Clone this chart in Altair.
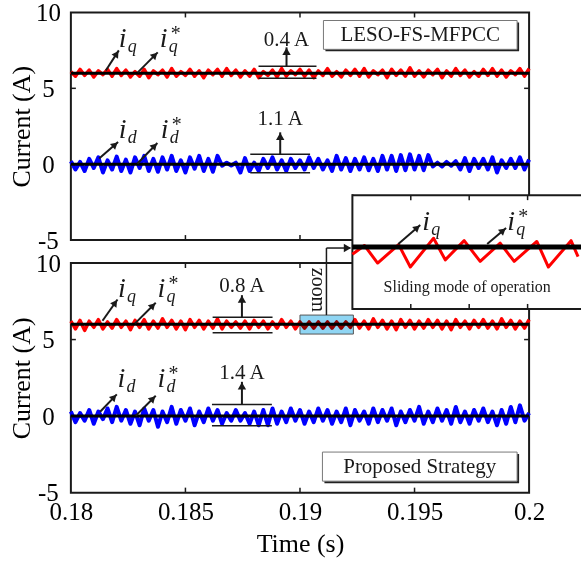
import altair as alt
import numpy as np
import pandas as pd

FONT = "Liberation Serif"
INK = "#1a1a1a"
RED = "#ff0000"
BLUE = "#0000ff"

W, H1, H2, GAP = 459, 228, 230, 23
T_MIN, T_MAX = 0.18, 0.2
V_MIN, V_MAX = -5, 10
PXT = W / (T_MAX - T_MIN)
PXV1 = H1 / (V_MAX - V_MIN)
PXV2 = H2 / (V_MAX - V_MIN)

x_tick_values = [0.18, 0.185, 0.19, 0.195, 0.2]
y_tick_values = [-5, 0, 5, 10]
x_inner_ticks = [0.185, 0.19, 0.195]
y_inner_ticks = [0, 5]

iq_ref = 6.0
id_ref = 0.0

# ripple around the references (A), one sample every 0.2 ms
iq_top_ripple = [
    0.10, -0.20, 0.25, -0.15, 0.20, -0.25, 0.15, -0.10, 0.25, -0.20,
    0.30, -0.15, 0.20, -0.25, 0.10, -0.20, 0.25, -0.30, 0.15, -0.10,
    0.20, -0.25, 0.30, -0.20, 0.10, -0.15, 0.25, -0.20, 0.15, -0.30,
    0.20, -0.10, 0.25, -0.20, 0.30, -0.15, 0.20, -0.25, 0.15, -0.20,
    0.25, -0.30, 0.10, -0.15, 0.20, -0.25, 0.30, -0.20, 0.15, -0.10,
    0.25, -0.20, 0.20, -0.30, 0.15, -0.15, 0.30, -0.20, 0.10, -0.25,
    0.20, -0.15, 0.25, -0.20, 0.30, -0.25, 0.15, -0.10, 0.20, -0.30,
    0.25, -0.15, 0.20, -0.20, 0.35, -0.20, 0.15, -0.25, 0.20, -0.10,
    0.25, -0.30, 0.15, -0.20, 0.30, -0.15, 0.20, -0.25, 0.10, -0.20,
    0.25, -0.15, 0.30, -0.20, 0.20, -0.25, 0.15, -0.10, 0.30, -0.20,
    0.30,
]
id_top_ripple = [
    0.20, -0.35, 0.15, -0.45, 0.35, -0.25, 0.45, -0.55, 0.25, -0.35,
    0.50, -0.45, 0.30, -0.55, 0.45, -0.25, 0.55, -0.45, 0.35, -0.50,
    0.45, -0.35, 0.55, -0.45, 0.25, -0.55, 0.45, -0.30, 0.55, -0.45,
    0.35, -0.50, 0.55, -0.10, 0.10, -0.08, 0.10, -0.55, 0.40, -0.45,
    0.10, -0.45, 0.35, -0.25, 0.45, -0.35, 0.25, -0.45, 0.35, -0.25,
    0.25, -0.35, 0.45, -0.25, 0.35, -0.35, 0.25, -0.45, 0.55, -0.35,
    0.40, -0.45, 0.35, -0.35, 0.45, -0.40, 0.35, -0.45, 0.55, -0.35,
    0.55, -0.45, 0.60, -0.40, 0.65, -0.35, 0.55, -0.40, 0.60, -0.15,
    0.10, -0.15, 0.15, -0.10, 0.20, -0.35, 0.40, -0.45, 0.35, -0.25,
    0.35, -0.35, 0.45, -0.55, 0.25, -0.25, 0.35, -0.25, 0.45, -0.35,
    0.30,
]
iq_bot_ripple = [
    0.20, -0.30, 0.25, -0.40, 0.20, -0.20, 0.30, -0.30, 0.15, -0.25,
    0.30, -0.20, 0.20, -0.35, 0.25, -0.20, 0.30, -0.30, 0.20, -0.25,
    0.35, -0.20, 0.25, -0.30, 0.20, -0.35, 0.30, -0.20, 0.25, -0.30,
    0.20, -0.25, 0.35, -0.30, 0.20, -0.20, 0.15, -0.25, 0.20, -0.30,
    0.25, -0.20, 0.20, -0.30, 0.15, -0.25, 0.30, -0.20, 0.20, -0.30,
    0.15, -0.25, 0.15, -0.25, 0.15, -0.25, 0.15, -0.25, 0.15, -0.25,
    0.15, -0.20, 0.30, -0.25, 0.20, -0.30, 0.35, -0.20, 0.25, -0.30,
    0.20, -0.35, 0.30, -0.20, 0.25, -0.30, 0.20, -0.25, 0.30, -0.20,
    0.25, -0.30, 0.20, -0.35, 0.30, -0.20, 0.20, -0.30, 0.25, -0.20,
    0.30, -0.25, 0.20, -0.30, 0.35, -0.20, 0.25, -0.30, 0.20, -0.25,
    0.30,
]
id_bot_ripple = [
    0.30, -0.40, 0.20, -0.30, 0.40, -0.50, 0.30, -0.20, 0.50, -0.40,
    0.60, -0.30, 0.40, -0.50, 0.30, -0.60, 0.50, -0.30, 0.40, -0.70,
    0.30, -0.40, 0.60, -0.50, 0.40, -0.30, 0.50, -0.60, 0.30, -0.40,
    0.50, -0.30, 0.40, -0.50, 0.20, -0.30, 0.40, -0.30, 0.20, -0.50,
    0.30, -0.60, 0.40, -0.60, 0.50, -0.50, 0.30, -0.40, 0.50, -0.30,
    0.40, -0.50, 0.30, -0.40, 0.50, -0.30, 0.40, -0.50, 0.30, -0.40,
    0.50, -0.60, 0.40, -0.30, 0.30, -0.50, 0.50, -0.40, 0.40, -0.30,
    0.50, -0.60, 0.30, -0.40, 0.40, -0.30, 0.60, -0.50, 0.30, -0.40,
    0.50, -0.30, 0.40, -0.50, 0.60, -0.40, 0.30, -0.50, 0.40, -0.30,
    0.50, -0.40, 0.30, -0.60, 0.40, -0.50, 0.60, -0.40, 0.70, -0.30,
    0.20,
]
time = np.round(np.linspace(T_MIN, T_MAX, len(iq_top_ripple)), 6)

# zoomed window (sliding mode of operation)
inset_t = [0.19, 0.190103, 0.190216, 0.190396, 0.190496, 0.190695, 0.190795,
           0.190957, 0.191094, 0.191265, 0.191385, 0.191579, 0.191678,
           0.191872, 0.191932]
inset_iq = [5.91, 6.02, 5.80, 6.03, 5.75, 6.11, 5.84, 6.08, 5.82, 6.05,
            5.82, 6.07, 5.75, 6.08, 5.88]
INSET_PXT = 117000.0
INSET_XR = [282, 511]
INSET_T = [0.19, 0.19 + (INSET_XR[1] - INSET_XR[0]) / INSET_PXT]
INSET_V = [5.225, 6.65]
INSET_YR = [46, -68]
INSET_PXV = (INSET_YR[0] - INSET_YR[1]) / (INSET_V[1] - INSET_V[0])
inset_ticks = [0.1905, 0.191, 0.1915]

xs_main = alt.Scale(domain=[T_MIN, T_MAX], nice=False, zero=False)
ys_main = alt.Scale(domain=[V_MIN, V_MAX], nice=False, zero=False)
xs_in = alt.Scale(domain=INSET_T, range=INSET_XR, nice=False, zero=False)
ys_in = alt.Scale(domain=INSET_V, range=INSET_YR, nice=False, zero=False)


def y_axis(h):
    return alt.Axis(values=y_tick_values, title="Current (A)",
                    labelExpr="toString(datum.value)", domain=False, ticks=False,
                    tickSize=0, grid=False, labelFont=FONT, labelFontSize=25,
                    labelColor="black", labelAlign="center", labelBaseline="middle",
                    labelPadding=23, labelFlush=False, labelOverlap=False,
                    titleFont=FONT, titleFontSize=26, titleFontWeight="normal",
                    titleColor="black", titleX=-49, titleY=h / 2, titleAngle=270,
                    titleAlign="center", titleBaseline="middle")


x_axis = alt.Axis(values=x_tick_values, title="Time (s)",
                  labelExpr="toString(datum.value)", domain=False, ticks=False,
                  tickSize=0, grid=False, labelFont=FONT, labelFontSize=25,
                  labelColor="black", labelBaseline="top", labelPadding=7,
                  labelFlush=False, labelOverlap=False, titleFont=FONT,
                  titleFontSize=26, titleFontWeight="normal", titleColor="black",
                  titlePadding=6)


def make_enc(xscale, yscale, xaxis, yaxis):
    # every layer of a panel carries the same axis definition
    def X(f):
        return alt.X(f, type="quantitative", scale=xscale, axis=xaxis)

    def Y(f):
        return alt.Y(f, type="quantitative", scale=yscale, axis=yaxis)
    return X, Y


def frame_layers(X, Y, h):
    frame_df = pd.DataFrame({"t0": [T_MIN], "t1": [T_MAX], "v0": [V_MIN], "v1": [V_MAX]})
    frame = alt.Chart(frame_df).mark_rect(fillOpacity=0, stroke=INK, strokeWidth=2).encode(
        x=X("t0"), x2=alt.X2("t1"), y=Y("v0"), y2=alt.Y2("v1"))
    xt = alt.Chart(pd.DataFrame({"t": x_inner_ticks}))
    yt = alt.Chart(pd.DataFrame({"v": y_inner_ticks}))
    rs = dict(color=INK, strokeWidth=1.5)
    return [
        frame,
        xt.mark_rule(**rs).encode(x=X("t"), y=alt.value(0), y2=alt.value(5)),
        xt.mark_rule(**rs).encode(x=X("t"), y=alt.value(h), y2=alt.value(h - 5)),
        yt.mark_rule(**rs).encode(y=Y("v"), x=alt.value(0), x2=alt.value(5)),
        yt.mark_rule(**rs).encode(y=Y("v"), x=alt.value(W - 5), x2=alt.value(W)),
    ]


def signal_layers(X, Y, iq_rip, id_rip):
    df = pd.DataFrame({"t": time, "iq": iq_ref + np.array(iq_rip),
                       "id": id_ref + np.array(id_rip)})
    base = alt.Chart(df)
    ref = pd.DataFrame({"t0": [T_MIN, T_MIN], "t1": [T_MAX, T_MAX], "v": [iq_ref, id_ref]})
    return [
        base.mark_line(color=RED, strokeWidth=3.5, strokeJoin="round").encode(x=X("t"), y=Y("iq")),
        base.mark_line(color=BLUE, strokeWidth=4, strokeJoin="round").encode(x=X("t"), y=Y("id")),
        alt.Chart(ref).mark_rule(color="black", strokeWidth=3).encode(x=X("t0"), x2=alt.X2("t1"), y=Y("v")),
    ]


def head_df(t0, v0, t1, v1, pxt, pxv, back=4.0):
    t0, v0, t1, v1 = map(np.asarray, (t0, v0, t1, v1))
    ang = np.degrees(np.arctan2((t1 - t0) * pxt, (v1 - v0) * pxv)) % 360
    rad = np.radians(ang)
    return pd.DataFrame({"t": t1 - back * np.sin(rad) / pxt,
                         "v": v1 - back * np.cos(rad) / pxv, "ang": ang})


def head_layer(hd, X, Y, size=70):
    return alt.Chart(hd).mark_point(shape="triangle-up", filled=True, size=size,
                                    color=INK, opacity=1, strokeWidth=0).encode(
        x=X("t"), y=Y("v"), angle=alt.Angle("ang:Q", scale=None))


def ripple_layers(X, Y, band, arrow, pxv):
    bd = pd.DataFrame(band)
    ar = pd.DataFrame(arrow)
    hd = head_df(ar["t"], ar["v0"], ar["t"], ar["v1"], PXT, pxv)
    return [
        alt.Chart(bd).mark_rule(color=INK, strokeWidth=1.5).encode(x=X("t0"), x2=alt.X2("t1"), y=Y("v")),
        alt.Chart(ar).mark_rule(color=INK, strokeWidth=2).encode(x=X("t"), y=Y("v0"), y2=alt.Y2("v1")),
        head_layer(hd, X, Y),
        alt.Chart(ar).mark_text(font=FONT, fontSize=21, color=INK, baseline="middle").encode(
            x=X("t"), y=Y("vl"), text="label:N"),
    ]


def pointer_layers(X, Y, ptr, lab, pxt, pxv):
    p = pd.DataFrame(ptr)
    l = pd.DataFrame(lab)
    hd = head_df(p["t0"], p["v0"], p["t1"], p["v1"], pxt, pxv)
    ts = dict(font=FONT, fontStyle="italic", color=INK, align="left", baseline="alphabetic")
    return [
        alt.Chart(p).mark_rule(color=INK, strokeWidth=2).encode(
            x=X("t0"), y=Y("v0"), x2=alt.X2("t1"), y2=alt.Y2("v1")),
        head_layer(hd, X, Y, size=60),
        alt.Chart(l).mark_text(text="i", fontSize=28, **ts).encode(x=X("t"), y=Y("v")),
        alt.Chart(l).mark_text(fontSize=18, dx=9, dy=5, **ts).encode(x=X("t"), y=Y("v"), text="sub:N"),
        alt.Chart(l[l["star"] == 1]).mark_text(text="*", font=FONT, fontSize=20, color=INK,
                                                align="left", baseline="alphabetic", dx=11, dy=-7).encode(
            x=X("t"), y=Y("v")),
    ]


def box_layers(X, Y, box, pxv):
    b = pd.DataFrame(box)
    sh = b.copy()
    sh["t0"] += 2 / PXT
    sh["t1"] += 2 / PXT
    sh["v0"] -= 2 / pxv
    sh["v1"] -= 2 / pxv
    b["tc"] = (b["t0"] + b["t1"]) / 2
    b["vc"] = (b["v0"] + b["v1"]) / 2
    return [
        alt.Chart(sh).mark_rect(color="#222222").encode(x=X("t0"), x2=alt.X2("t1"), y=Y("v0"), y2=alt.Y2("v1")),
        alt.Chart(b).mark_rect(fill="white", stroke="#777777", strokeWidth=1).encode(
            x=X("t0"), x2=alt.X2("t1"), y=Y("v0"), y2=alt.Y2("v1")),
        alt.Chart(b).mark_text(font=FONT, fontSize=21, color=INK, baseline="middle").encode(
            x=X("tc"), y=Y("vc"), text="label:N"),
    ]


# ---------- top panel: LESO-FS-MFPCC ----------
top_band = {"t0": [0.18819, 0.18819, 0.18783, 0.18783],
            "t1": [0.19072, 0.19072, 0.19044, 0.19044],
            "v": [6.45, 5.66, 0.66, -0.57]}
top_arrow = {"t": [0.189412, 0.189137], "v0": [6.45, 0.66], "v1": [7.7, 2.1],
             "vl": [8.16, 2.96], "label": ["0.4 A", "1.1 A"]}
top_ptr = {"t0": [0.181525, 0.182919, 0.181233, 0.182905],
           "v0": [6.18, 6.05, 0.37, 0.05],
           "t1": [0.182092, 0.183791, 0.182061, 0.183777],
           "v1": [7.5, 7.37, 1.46, 1.40]}
top_lab = {"t": [0.182092, 0.183878, 0.182092, 0.183922],
           "v": [7.70, 7.70, 1.71, 1.71], "sub": ["q", "q", "d", "d"], "star": [0, 1, 0, 1]}
top_box = {"t0": [0.191024], "t1": [0.199477], "v0": [7.57], "v1": [9.47], "label": ["LESO-FS-MFPCC"]}

TX, TY = make_enc(xs_main, ys_main, None, y_axis(H1))
top = alt.layer(
    *frame_layers(TX, TY, H1),
    *signal_layers(TX, TY, iq_top_ripple, id_top_ripple),
    *ripple_layers(TX, TY, top_band, top_arrow, PXV1),
    *pointer_layers(TX, TY, top_ptr, top_lab, PXT, PXV1),
    *box_layers(TX, TY, top_box, PXV1),
).properties(width=W, height=H1)

# ---------- bottom panel: Proposed Strategy ----------
bot_band = {"t0": [0.186187, 0.186187, 0.186158, 0.186158],
            "t1": [0.188802, 0.188802, 0.188773, 0.188773],
            "v": [6.45, 5.44, 0.76, -0.63]}
bot_arrow = {"t": [0.187466, 0.187466], "v0": [6.45, 0.76], "v1": [7.9, 2.24],
             "vl": [8.5, 2.8], "label": ["0.8 A", "1.4 A"]}
bot_ptr = {"t0": [0.181381, 0.182802, 0.181277, 0.182832],
           "v0": [6.23, 6.06, 0.28, 0.02],
           "t1": [0.182035, 0.183704, 0.182004, 0.183704],
           "v1": [7.62, 7.41, 1.42, 1.33]}
bot_lab = {"t": [0.182061, 0.183778, 0.182035, 0.183778],
           "v": [7.78, 7.78, 1.87, 1.87], "sub": ["q", "q", "d", "d"], "star": [0, 1, 0, 1]}
bot_box = {"t0": [0.19098], "t1": [0.199477], "v0": [-4.25], "v1": [-2.35], "label": ["Proposed Strategy"]}

zoom_box = pd.DataFrame({"t0": [0.19], "t1": [0.192331], "v0": [5.36], "v1": [6.6]})
zoom_leg = pd.DataFrame({"t0": [0.191155, 0.191155], "v0": [6.6, 10.98],
                         "t1": [0.191155, 0.192200], "v1": [10.98, 10.98]})
zoom_head = pd.DataFrame({"t": [0.192070], "v": [10.98], "ang": [90.0]})
zoom_text = pd.DataFrame({"t": [0.190806], "v": [8.24], "label": ["zoom"]})

BX, BY = make_enc(xs_main, ys_main, x_axis, y_axis(H2))
bottom_main = alt.layer(
    *frame_layers(BX, BY, H2),
    *signal_layers(BX, BY, iq_bot_ripple, id_bot_ripple),
    *ripple_layers(BX, BY, bot_band, bot_arrow, PXV2),
    *pointer_layers(BX, BY, bot_ptr, bot_lab, PXT, PXV2),
    *box_layers(BX, BY, bot_box, PXV2),
    alt.Chart(zoom_box).mark_rect(fill="#8fd5f3", stroke="#555555", strokeWidth=1, blend="multiply").encode(
        x=BX("t0"), x2=alt.X2("t1"), y=BY("v0"), y2=alt.Y2("v1")),
    alt.Chart(zoom_leg).mark_rule(color=INK, strokeWidth=1.5).encode(
        x=BX("t0"), y=BY("v0"), x2=alt.X2("t1"), y2=alt.Y2("v1")),
    head_layer(zoom_head, BX, BY, size=70),
    alt.Chart(zoom_text).mark_text(font=FONT, fontSize=20, color=INK, angle=90, baseline="middle").encode(
        x=BX("t"), y=BY("v"), text="label:N"),
)

# ---------- inset ----------
IX, IY = make_enc(xs_in, ys_in, None, None)
in_sig = pd.DataFrame({"t": inset_t, "iq": inset_iq})
edge = 1.0 / INSET_PXV          # half of a 2 px edge
half_ref = 2.5 / INSET_PXV      # half of the 5 px reference line
in_box = pd.DataFrame({"t0": [INSET_T[0]], "t1": [INSET_T[1]], "v0": [INSET_V[0]], "v1": [INSET_V[1]]})
in_hedges = pd.DataFrame({"t0": [INSET_T[0]] * 2, "t1": [INSET_T[1]] * 2,
                          "v0": [INSET_V[1] - edge, INSET_V[0] - edge],
                          "v1": [INSET_V[1] + edge, INSET_V[0] + edge]})
in_vedge = pd.DataFrame({"t": [INSET_T[0]], "v0": [INSET_V[0] - edge], "v1": [INSET_V[1] + edge]})
tick_len = 5 / INSET_PXV
in_ticks = pd.DataFrame({"t": inset_ticks * 2,
                         "v0": [INSET_V[1]] * 3 + [INSET_V[0]] * 3,
                         "v1": [INSET_V[1] - tick_len] * 3 + [INSET_V[0] + tick_len] * 3})
in_ref = pd.DataFrame({"t0": [INSET_T[0]], "t1": [INSET_T[1]],
                       "v0": [iq_ref - half_ref], "v1": [iq_ref + half_ref]})
in_ptr = {"t0": [0.190393, 0.191154], "v0": [6.0375, 6.0375],
          "t1": [0.190581, 0.191316], "v1": [6.275, 6.2375]}
in_lab = {"t": [0.190598, 0.191325], "v": [6.2125, 6.2125], "sub": ["q", "q"], "star": [0, 1]}
in_text = pd.DataFrame({"t": [0.190983], "v": [5.5], "label": ["Sliding mode of operation"]})

inset = alt.layer(
    alt.Chart(in_box).mark_rect(fill="white", strokeWidth=0).encode(
        x=IX("t0"), x2=alt.X2("t1"), y=IY("v0"), y2=alt.Y2("v1")),
    alt.Chart(in_hedges).mark_rect(fill=INK, strokeWidth=0).encode(
        x=IX("t0"), x2=alt.X2("t1"), y=IY("v0"), y2=alt.Y2("v1")),
    alt.Chart(in_vedge).mark_rule(color=INK, strokeWidth=2).encode(
        x=IX("t"), y=IY("v0"), y2=alt.Y2("v1")),
    alt.Chart(in_ticks).mark_rule(color=INK, strokeWidth=1.5).encode(
        x=IX("t"), y=IY("v0"), y2=alt.Y2("v1")),
    alt.Chart(in_sig).mark_line(color=RED, strokeWidth=3, strokeJoin="round").encode(x=IX("t"), y=IY("iq")),
    alt.Chart(in_ref).mark_rect(fill="black", strokeWidth=0).encode(
        x=IX("t0"), x2=alt.X2("t1"), y=IY("v0"), y2=alt.Y2("v1")),
    *pointer_layers(IX, IY, in_ptr, in_lab, INSET_PXT, INSET_PXV),
    alt.Chart(in_text).mark_text(font=FONT, fontSize=16, color=INK, baseline="middle").encode(
        x=IX("t"), y=IY("v"), text="label:N"),
)

bottom = alt.layer(bottom_main, inset).resolve_scale(
    x="independent", y="independent").properties(width=W, height=H2)

chart = alt.vconcat(top, bottom, spacing=GAP, bounds="flush").properties(
    padding={"left": 9, "top": 0, "right": 0, "bottom": 3}
).configure_view(strokeWidth=0)

chart.save("out.html", embed_options={"renderer": "svg", "actions": False})
